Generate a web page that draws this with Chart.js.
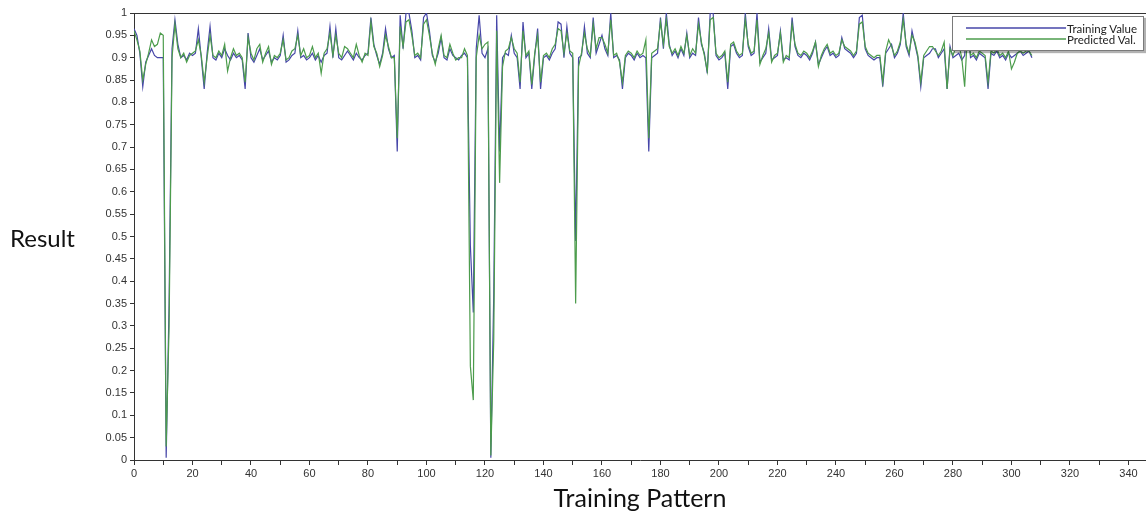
<!DOCTYPE html>
<html>
<head>
<meta charset="utf-8">
<script src="https://cdn.jsdelivr.net/npm/chart.js@4.4.1/dist/chart.umd.min.js"></script>
<style>
  html, body { margin: 0; padding: 0; background: #fff; }
  #wrap { position: relative; width: 1146px; height: 514px; overflow: hidden; }
  #ylab {
    position: absolute; left: 10px; top: 223px;
    font: 24px Lato, "Open Sans", sans-serif; color: #111;
  }
  #legend {
    position: absolute; left: 952px; top: 16px; width: 190px; height: 33px;
    border: 1px solid #7a7a7a; background: #fff;
    box-shadow: 2px 2px 1px rgba(0,0,0,0.3);
    font: 11.5px Lato, "Open Sans", sans-serif; color: #222;
  }
  .lg-row { position: absolute; left: 13px; height: 12px; display: flex; align-items: center; }
  .lg-line { width: 100px; height: 0; border-top-width: 2px; border-top-style: solid; margin-right: 1px; opacity: 0.75; }
</style>
</head>
<body>
<div id="wrap">
  <canvas id="chart" width="1146" height="514"></canvas>
  <div id="ylab">Result</div>
  <div id="legend"></div>
</div>
<script>
'use strict';

// ─── Data ──────────────────────────────────────────────────────────
const trainingValue = [
  0.965, 0.95, 0.91, 0.835, 0.89, 0.905, 0.92, 0.905, 0.90, 0.90,
  0.90, 0.005, 0.35, 0.92, 0.985, 0.93, 0.90, 0.905, 0.895, 0.91,
  0.905, 0.91, 0.965, 0.90, 0.83, 0.91, 0.97, 0.90, 0.895, 0.91,
  0.90, 0.92, 0.905, 0.895, 0.91, 0.90, 0.905, 0.895, 0.83, 0.955,
  0.90, 0.89, 0.905, 0.92, 0.895, 0.905, 0.915, 0.89, 0.90, 0.895,
  0.905, 0.95, 0.89, 0.895, 0.905, 0.91, 0.96, 0.90, 0.905, 0.895,
  0.90, 0.91, 0.895, 0.905, 0.89, 0.905, 0.91, 0.97, 0.90, 0.965,
  0.90, 0.895, 0.905, 0.915, 0.905, 0.895, 0.91, 0.90, 0.895, 0.905,
  0.91, 0.99, 0.93, 0.905, 0.885, 0.91, 0.965, 0.92, 0.90, 0.905,
  0.69, 0.995, 0.92, 1.0, 1.0, 0.96, 0.90, 0.905, 0.895, 0.99,
  1.0, 0.96, 0.905, 0.89, 0.91, 0.945, 0.90, 0.895, 0.92, 0.905,
  0.90, 0.895, 0.905, 0.91, 0.90, 0.48, 0.33, 0.92, 0.995, 0.91,
  0.90, 0.92, 0.005, 0.37, 0.995, 0.69, 0.90, 0.91, 0.905, 0.95,
  0.91, 0.90, 0.83, 0.98, 0.90, 0.91, 0.83, 0.905, 0.965, 0.83,
  0.90, 0.905, 0.895, 0.91, 0.92, 0.98, 0.975, 0.90, 0.97, 0.91,
  0.90, 0.49, 0.90, 0.905, 0.97, 0.91, 0.90, 0.99, 0.91, 0.93,
  0.95, 0.92, 0.905, 1.0, 0.90, 0.905, 0.895, 0.83, 0.90, 0.91,
  0.905, 0.895, 0.91, 0.90, 0.905, 0.90, 0.69, 0.90, 0.905, 0.91,
  0.99, 0.92, 1.0, 0.93, 0.905, 0.915, 0.90, 0.92, 0.905, 0.955,
  0.90, 0.91, 0.905, 0.99, 0.93, 0.91, 0.865, 1.0, 1.0, 0.905,
  0.895, 0.90, 0.91, 0.83, 0.925, 0.93, 0.91, 0.90, 0.905, 1.0,
  0.925, 0.905, 0.91, 1.0, 0.89, 0.90, 0.91, 0.965, 0.895, 0.90,
  0.905, 0.96, 0.895, 0.90, 0.895, 0.99, 0.925, 0.905, 0.90, 0.91,
  0.905, 0.895, 0.91, 0.935, 0.885, 0.90, 0.915, 0.925, 0.905, 0.91,
  0.90, 0.905, 0.945, 0.92, 0.915, 0.91, 0.90, 0.91, 0.99, 0.995,
  0.92, 0.905, 0.90, 0.895, 0.90, 0.90, 0.835, 0.91, 0.92, 0.93,
  0.90, 0.91, 0.93, 1.0, 0.925, 0.905, 0.96, 0.93, 0.90, 0.835,
  0.90, 0.905, 0.91, 0.92, 0.92, 0.90, 0.91, 0.92, 0.83, 0.925,
  0.90, 0.905, 0.91, 0.895, 0.905, 0.99, 0.90, 0.905, 0.895, 0.91,
  0.905, 0.90, 0.83, 0.91, 0.905, 0.915, 0.90, 0.905, 0.895, 0.91,
  0.90, 0.905, 0.91, 0.915, 0.905, 0.91, 0.915, 0.90
];

const predictedVal = [
  0.96, 0.94, 0.915, 0.85, 0.885, 0.91, 0.94, 0.925, 0.93, 0.955,
  0.95, 0.03, 0.30, 0.90, 0.975, 0.92, 0.90, 0.91, 0.89, 0.905,
  0.91, 0.915, 0.94, 0.905, 0.845, 0.90, 0.95, 0.905, 0.90, 0.915,
  0.905, 0.93, 0.87, 0.90, 0.92, 0.905, 0.91, 0.90, 0.845, 0.945,
  0.91, 0.895, 0.92, 0.93, 0.89, 0.91, 0.925, 0.885, 0.905, 0.90,
  0.91, 0.94, 0.895, 0.90, 0.915, 0.92, 0.95, 0.905, 0.92, 0.90,
  0.905, 0.925, 0.90, 0.91, 0.865, 0.91, 0.92, 0.955, 0.905, 0.95,
  0.91, 0.90, 0.925, 0.92, 0.91, 0.90, 0.93, 0.905, 0.89, 0.91,
  0.905, 0.98, 0.925, 0.91, 0.88, 0.905, 0.95, 0.925, 0.90, 0.90,
  0.72, 0.97, 0.925, 0.98, 0.985, 0.95, 0.905, 0.91, 0.90, 0.975,
  0.985, 0.95, 0.91, 0.885, 0.92, 0.95, 0.905, 0.90, 0.93, 0.91,
  0.895, 0.90, 0.90, 0.92, 0.905, 0.21, 0.134, 0.90, 0.95, 0.92,
  0.93, 0.935, 0.01, 0.27, 0.96, 0.62, 0.88, 0.915, 0.92, 0.945,
  0.92, 0.91, 0.845, 0.96, 0.905, 0.915, 0.84, 0.91, 0.95, 0.845,
  0.905, 0.91, 0.90, 0.92, 0.93, 0.965, 0.96, 0.91, 0.955, 0.915,
  0.91, 0.35, 0.88, 0.91, 0.955, 0.92, 0.905, 0.975, 0.92, 0.945,
  0.945, 0.93, 0.91, 0.985, 0.905, 0.91, 0.89, 0.845, 0.905, 0.915,
  0.91, 0.90, 0.915, 0.905, 0.91, 0.94, 0.72, 0.91, 0.915, 0.92,
  0.98, 0.93, 0.985, 0.925, 0.91, 0.92, 0.905, 0.925, 0.91, 0.95,
  0.905, 0.92, 0.91, 0.975, 0.935, 0.905, 0.87, 0.985, 0.99, 0.91,
  0.90, 0.905, 0.915, 0.845, 0.93, 0.935, 0.915, 0.905, 0.91, 0.985,
  0.93, 0.91, 0.915, 0.985, 0.885, 0.905, 0.92, 0.955, 0.89, 0.905,
  0.91, 0.955, 0.89, 0.905, 0.90, 0.975, 0.93, 0.91, 0.905, 0.915,
  0.91, 0.90, 0.915, 0.935, 0.88, 0.905, 0.92, 0.93, 0.91, 0.915,
  0.905, 0.91, 0.94, 0.925, 0.92, 0.915, 0.905, 0.915, 0.975, 0.98,
  0.925, 0.91, 0.905, 0.90, 0.905, 0.905, 0.845, 0.915, 0.94, 0.925,
  0.905, 0.915, 0.935, 0.985, 0.93, 0.91, 0.95, 0.935, 0.905, 0.845,
  0.905, 0.915, 0.925, 0.925, 0.915, 0.905, 0.915, 0.935, 0.83, 0.92,
  0.905, 0.925, 0.93, 0.90, 0.835, 0.96, 0.905, 0.91, 0.90, 0.915,
  0.91, 0.905, 0.845, 0.915, 0.91, 0.92, 0.905, 0.91, 0.90, 0.915,
  0.875, 0.89, 0.91, 0.915, 0.91, 0.915, 0.915, 0.905
];

const seriesLabels = ['Training Value', 'Predicted Val.'];
const xAxisMax = 346;
const xTickStep = 10;
const xLabelStep = 20;
const yTickStep = 0.05;

// ─── Styling ───────────────────────────────────────────────────────
const colorTrain = '#4646a8';
const colorPred = '#4c9c4c';
const colorAxis = '#333';
const tickFont = { family: '"Liberation Sans", Arial, sans-serif', size: 11 };

const toPoints = arr => arr.map((v, i) => ({ x: i, y: v }));

// Box line across the top of the plot, like the original's frame
const topFrame = {
  id: 'topFrame',
  beforeDatasetsDraw(chart) {
    const { ctx, chartArea: { left, right, top } } = chart;
    ctx.save();
    ctx.strokeStyle = colorAxis;
    ctx.lineWidth = 1;
    ctx.beginPath();
    ctx.moveTo(left, top + 0.5);
    ctx.lineTo(right, top + 0.5);
    ctx.stroke();
    ctx.restore();
  }
};

const chart = new Chart(document.getElementById('chart'), {
  type: 'line',
  data: {
    datasets: [
      {
        label: seriesLabels[0],
        data: toPoints(trainingValue),
        borderColor: colorTrain,
        borderWidth: 1.2,
        pointRadius: 0,
        tension: 0,
        order: 1,   // drawn first, under the green line
      },
      {
        label: seriesLabels[1],
        data: toPoints(predictedVal),
        borderColor: colorPred,
        borderWidth: 1.2,
        pointRadius: 0,
        tension: 0,
        order: 0,
      },
    ],
  },
  options: {
    responsive: false,
    animation: false,
    layout: { padding: { top: 13, right: 0, left: 0, bottom: 0 } },
    plugins: { legend: { display: false }, tooltip: { enabled: false } },
    scales: {
      x: {
        type: 'linear',
        min: 0,
        max: xAxisMax,
        afterFit: s => { s.height = 54; },
        grid: { drawOnChartArea: false, drawTicks: true, tickLength: 5, color: colorAxis },
        border: { display: true, color: colorAxis, width: 1 },
        ticks: {
          stepSize: xTickStep,
          includeBounds: false,
          autoSkip: false,
          maxRotation: 0,
          padding: 2,
          color: '#333',
          font: tickFont,
          callback: v => (v % xLabelStep === 0 ? v : ''),
        },
        title: {
          display: true,
          text: 'Training Pattern',
          color: '#111',
          font: { family: 'Lato, "Open Sans", sans-serif', size: 25 },
          padding: { top: 0, bottom: 0 },
        },
      },
      y: {
        min: 0,
        max: 1,
        afterFit: s => { s.width = 134; },
        grid: { drawOnChartArea: false, drawTicks: true, tickLength: 4, color: colorAxis },
        border: { display: true, color: colorAxis, width: 1 },
        ticks: {
          stepSize: yTickStep,
          autoSkip: false,
          padding: 3,
          color: '#333',
          font: tickFont,
          callback: v => String(+v.toFixed(2)),
        },
      },
    },
  },
  plugins: [topFrame],
});

// ─── Legend box (sits inside the plot, top right) ──────────────────
const legendEl = document.getElementById('legend');
legendEl.innerHTML = chart.data.datasets.map((ds, i) => `
  <div class="lg-row" style="top:${5 + i * 11}px">
    <span class="lg-line" style="border-top-color:${ds.borderColor}"></span>
    <span>${ds.label}</span>
  </div>`).join('');
</script>
</body>
</html>
